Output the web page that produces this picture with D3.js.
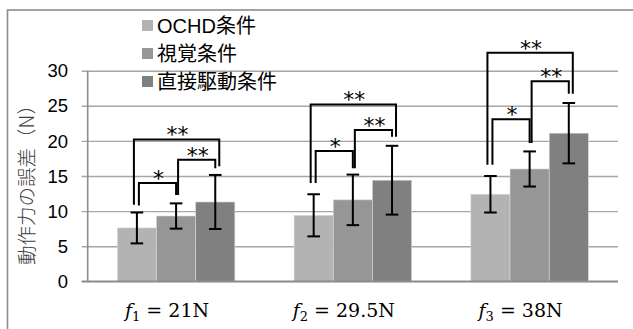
<!DOCTYPE html>
<html>
<head>
<meta charset="utf-8">
<script src="https://cdn.jsdelivr.net/npm/d3@7/dist/d3.min.js"></script>
<style>
  html, body { margin: 0; padding: 0; background: #fff; }
  svg { display: block; }
</style>
</head>
<body>
<script>
// Force-error conditions and their colours
const seriesNames = ["OCHD条件", "視覚条件", "直接駆動条件"];
const seriesColors = ["#b3b3b3", "#969696", "#808080"];

// Target force levels (x categories)
const categorySubs = ["1", "2", "3"];
const categoryValues = ["21N", "29.5N", "38N"];

// Mean error (N) per condition, one value per force level
const meanOCHD   = [7.6, 9.4, 12.4];
const meanVisual = [9.3, 11.6, 16.0];
const meanDirect = [11.3, 14.4, 21.1];

// Standard deviation (N)
const sdOCHD   = [2.2, 3.0, 2.6];
const sdVisual = [1.8, 3.6, 2.5];
const sdDirect = [3.85, 4.9, 4.3];

const yTicks = [0, 5, 10, 15, 20, 25, 30];

// Significance brackets: force level, series pair, bracket height, leg ends, label
const bracketCat   = [0, 0, 0, 1, 1, 1, 2, 2, 2];
const bracketFrom  = [0, 1, 0, 0, 1, 0, 0, 1, 0];
const bracketTo    = [1, 2, 2, 1, 2, 2, 1, 2, 2];
const bracketTop   = [14.0, 17.3, 20.2, 18.55, 21.55, 25.2, 23.1, 28.5, 32.55];
const bracketLegA  = [10.8, 12.3, 10.9, 14.0, 16.1, 14.0, 16.6, 19.7, 16.6];
const bracketLegB  = [12.3, 16.1, 16.4, 16.1, 20.6, 20.6, 19.7, 26.7, 26.7];
const bracketLabel = ["*", "**", "**", "*", "**", "**", "*", "**", "**"];

const means = [meanOCHD, meanVisual, meanDirect];
const sds = [sdOCHD, sdVisual, sdDirect];

const W = 633, H = 329;
const svg = d3.select("body").append("svg").attr("width", W).attr("height", H);

// Chart frame
svg.append("rect")
  .attr("x", 7.5).attr("y", 10).attr("width", 640).attr("height", 340)
  .attr("fill", "none").attr("stroke", "#8c8c8c").attr("stroke-width", 1.6);

const plotLeft = 87.7, plotRight = 618, plotTop = 70.7, plotBottom = 281.3;

const y = d3.scaleLinear().domain([0, 30]).range([plotBottom, plotTop]);
const x0 = d3.scaleBand().domain(d3.range(3)).range([plotLeft, plotRight])
  .paddingInner(0.335).paddingOuter(0.1675);
const x1 = d3.scaleBand().domain(d3.range(3)).range([0, x0.bandwidth()]);

// Horizontal gridlines with small tick marks
const yAxis = d3.axisLeft(y).tickValues(yTicks).tickSize(-(plotRight - plotLeft)).tickFormat("");
const gGrid = svg.append("g").attr("transform", `translate(${plotLeft},0)`).call(yAxis);
gGrid.select(".domain").remove();
gGrid.selectAll(".tick line")
  .attr("x1", -6)
  .attr("stroke", "#a6a6a6").attr("stroke-width", 1.4);

// Tick labels
svg.append("g").selectAll("text").data(yTicks).join("text")
  .attr("x", 68).attr("y", d => y(d))
  .attr("dy", "0.36em")
  .attr("text-anchor", "end")
  .attr("font-family", "'Liberation Sans', Arial, sans-serif")
  .attr("font-size", 18.5)
  .attr("fill", "#000")
  .text(d => d);

// Bars
const gBars = svg.append("g");
for (let s = 0; s < 3; s++) {
  gBars.selectAll(null).data(means[s]).join("rect")
    .attr("x", (d, i) => x0(i) + x1(s))
    .attr("y", d => y(d))
    .attr("width", x1.bandwidth())
    .attr("height", d => y(0) - y(d))
    .attr("fill", seriesColors[s])
    .attr("stroke", "#d9d9d9").attr("stroke-width", 0.6);
}

// Axis lines
svg.append("line")
  .attr("x1", plotLeft).attr("x2", plotLeft).attr("y1", plotTop).attr("y2", plotBottom)
  .attr("stroke", "#8c8c8c").attr("stroke-width", 1.6);
svg.append("line")
  .attr("x1", plotLeft - 6).attr("x2", plotRight).attr("y1", plotBottom).attr("y2", plotBottom)
  .attr("stroke", "#8c8c8c").attr("stroke-width", 1.8);

// Error bars
const gErr = svg.append("g").attr("stroke", "#000").attr("stroke-width", 2);
const capHalf = 6.3;
for (let s = 0; s < 3; s++) {
  means[s].forEach((m, i) => {
    const cx = x0(i) + x1(s) + x1.bandwidth() / 2;
    const hi = y(m + sds[s][i]), lo = y(m - sds[s][i]);
    gErr.append("line").attr("x1", cx).attr("x2", cx).attr("y1", hi).attr("y2", lo);
    gErr.append("line").attr("x1", cx - capHalf).attr("x2", cx + capHalf).attr("y1", hi).attr("y2", hi);
    gErr.append("line").attr("x1", cx - capHalf).attr("x2", cx + capHalf).attr("y1", lo).attr("y2", lo);
  });
}

// Significance brackets
const gBr = svg.append("g");
bracketCat.forEach((c, k) => {
  const a = bracketFrom[k], b = bracketTo[k];
  const wide = (b - a) > 1;
  const xa = x0(c) + x1(a) + x1.bandwidth() / 2 + (wide ? -3 : 2);
  const xb = x0(c) + x1(b) + x1.bandwidth() / 2 + (wide ? 4 : 0);
  const yt = y(bracketTop[k]);
  gBr.append("path")
    .attr("d", `M${xa},${y(bracketLegA[k])}V${yt}H${xb}V${y(bracketLegB[k])}`)
    .attr("fill", "none").attr("stroke", "#000").attr("stroke-width", 2);
  gBr.append("text")
    .attr("x", (xa + xb) / 2 + 1).attr("y", yt + 3)
    .attr("text-anchor", "middle")
    .attr("font-family", "'DejaVu Sans', sans-serif")
    .attr("font-size", 22)
    .attr("fill", "#000")
    .text(bracketLabel[k]);
});

// Category labels: f_n = value
const gX = svg.append("g");
categorySubs.forEach((sub, i) => {
  const t = gX.append("text")
    .attr("x", x0(i) + x0.bandwidth() / 2 - 9)
    .attr("y", 316.5)
    .attr("text-anchor", "middle")
    .attr("font-family", "'DejaVu Serif', 'Liberation Serif', serif")
    .attr("font-size", 19)
    .attr("fill", "#000");
  t.append("tspan").attr("font-style", "italic").text("f");
  t.append("tspan").attr("font-size", 13).attr("dy", 4).text(sub);
  t.append("tspan").attr("dy", -4).text(" = " + categoryValues[i]);
});

// Y axis title
svg.append("text")
  .attr("transform", `translate(27,${(plotTop + plotBottom) / 2 + 4}) rotate(-90)`)
  .attr("text-anchor", "middle")
  .attr("dy", "0.35em")
  .attr("font-family", "'Noto Sans CJK JP', sans-serif")
  .attr("font-weight", 300)
  .attr("font-size", 19.5)
  .attr("fill", "#404040")
  .text("動作力の誤差（N）");

// Legend
const gLeg = svg.append("g");
seriesNames.forEach((name, i) => {
  const by = 33 + i * 28;
  gLeg.append("rect")
    .attr("x", 142).attr("y", by - 13).attr("width", 11).attr("height", 11)
    .attr("fill", seriesColors[i]);
  gLeg.append("text")
    .attr("x", 157).attr("y", by)
    .attr("font-family", "'Liberation Sans', 'Noto Sans CJK JP', sans-serif")
    .attr("font-size", 20)
    .attr("fill", "#000")
    .text(name);
});
</script>
</body>
</html>
